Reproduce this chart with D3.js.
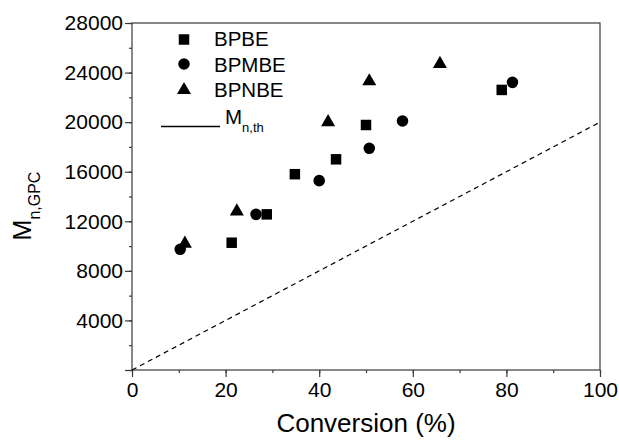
<!DOCTYPE html>
<html>
<head>
<meta charset="utf-8">
<script src="https://cdn.jsdelivr.net/npm/d3@7"></script>
<style>
  body { margin: 0; background: #fff; }
  svg { font-family: "Liberation Sans", Arial, sans-serif; }
</style>
</head>
<body>
<svg id="chart" width="619" height="441"></svg>
<script>
"use strict";

// series (conversion %, Mn)
var bpbeX = [21.3, 28.8, 34.8, 43.6, 50.0, 79.0];
var bpbeY = [10270, 12560, 15800, 17000, 19770, 22600];
var bpmbeX = [10.3, 26.5, 40.0, 50.7, 57.8, 81.3];
var bpmbeY = [9740, 12560, 15280, 17890, 20090, 23210];
var bpnbeX = [11.3, 22.4, 41.9, 50.7, 65.8];
var bpnbeY = [10200, 12800, 20000, 23300, 24700];

// theoretical Mn line
var thX = [0, 100];
var thY = [0, 20000];

var xTicks = [0, 20, 40, 60, 80, 100];
var yTicks = [4000, 8000, 12000, 16000, 20000, 24000, 28000];

var svg = d3.select("#chart");
var plotL = 132, plotR = 600, plotT = 23, plotB = 370;
var axisColor = "#3a3a3a";

var x = d3.scaleLinear().domain([0, 100]).range([plotL, plotR]);
var y = d3.scaleLinear().domain([0, 28000]).range([plotB, plotT]);

// frame
svg.append("rect")
  .attr("x", plotL).attr("y", plotT)
  .attr("width", plotR - plotL).attr("height", plotB - plotT)
  .attr("fill", "none").attr("stroke", axisColor).attr("stroke-width", 1.2);

// x axis
var xAxis = svg.append("g").attr("transform", "translate(0," + plotB + ")");
xAxis.append("g").call(d3.axisBottom(x).tickValues(d3.range(0, 101, 10)).tickSize(3).tickFormat(""));
xAxis.append("g").call(d3.axisBottom(x).tickValues(xTicks).tickSize(7).tickPadding(5).tickFormat(d3.format("d")));
xAxis.selectAll(".domain").remove();
xAxis.selectAll("line").attr("stroke", axisColor).attr("stroke-width", 1.2);
xAxis.selectAll("text").attr("fill", "#000").style("font-size", "21px");

// y axis
var yAxis = svg.append("g").attr("transform", "translate(" + plotL + ",0)");
yAxis.append("g").call(d3.axisLeft(y).tickValues(d3.range(0, 28001, 2000)).tickSize(3).tickFormat(""));
yAxis.append("g").call(d3.axisLeft(y).tickValues([0].concat(yTicks)).tickSize(7).tickPadding(2)
  .tickFormat(function(d) { return d === 0 ? "" : d; }));
yAxis.selectAll(".domain").remove();
yAxis.selectAll("line").attr("stroke", axisColor).attr("stroke-width", 1.2);
yAxis.selectAll("text").attr("fill", "#000").style("font-size", "21px");

// axis titles
svg.append("text")
  .attr("x", (plotL + plotR) / 2).attr("y", 432)
  .attr("text-anchor", "middle")
  .style("font-size", "26px")
  .text("Conversion (%)");

var yTitle = svg.append("text")
  .attr("transform", "translate(31,206) rotate(-90)")
  .attr("text-anchor", "middle")
  .style("font-size", "25px");
yTitle.append("tspan").text("M");
yTitle.append("tspan").attr("dy", 9).style("font-size", "16px").text("n,GPC");

// theoretical line
var line = d3.line()
  .x(function(d) { return x(d[0]); })
  .y(function(d) { return y(d[1]); });

svg.append("path")
  .datum(d3.zip(thX, thY))
  .attr("d", line)
  .attr("fill", "none")
  .attr("stroke", "#000")
  .attr("stroke-width", 1.2)
  .attr("stroke-dasharray", "5,4");

// markers
var shapes = {
  square: d3.symbol().type(d3.symbolSquare).size(110),
  circle: d3.symbol().type(d3.symbolCircle).size(105),
  triangle: d3.symbol().type(d3.symbolTriangle).size(85)
};

function drawSeries(xs, ys, shape) {
  svg.append("g").selectAll("path")
    .data(d3.zip(xs, ys))
    .enter()
    .append("path")
      .attr("d", shapes[shape])
      .attr("transform", function(d) { return "translate(" + x(d[0]) + "," + y(d[1]) + ")"; })
      .attr("fill", "#000");
}

drawSeries(bpbeX, bpbeY, "square");
drawSeries(bpmbeX, bpmbeY, "circle");
drawSeries(bpnbeX, bpnbeY, "triangle");

// legend
var legend = [
  { name: "BPBE", shape: "square", cy: 39.5, base: 46 },
  { name: "BPMBE", shape: "circle", cy: 64, base: 71.5 },
  { name: "BPNBE", shape: "triangle", cy: 90, base: 97 }
];

legend.forEach(function(l) {
  svg.append("path")
    .attr("d", shapes[l.shape])
    .attr("transform", "translate(184," + l.cy + ")")
    .attr("fill", "#000");
  svg.append("text")
    .attr("x", 214).attr("y", l.base)
    .style("font-size", "20.5px")
    .text(l.name);
});

svg.append("line")
  .attr("x1", 161).attr("x2", 220)
  .attr("y1", 126.5).attr("y2", 126.5)
  .attr("stroke", "#000").attr("stroke-width", 1.5);

var lt = svg.append("text").attr("x", 225).attr("y", 124).style("font-size", "20.5px");
lt.append("tspan").text("M");
lt.append("tspan").attr("dy", 8).style("font-size", "13px").text("n,th");
</script>
</body>
</html>
